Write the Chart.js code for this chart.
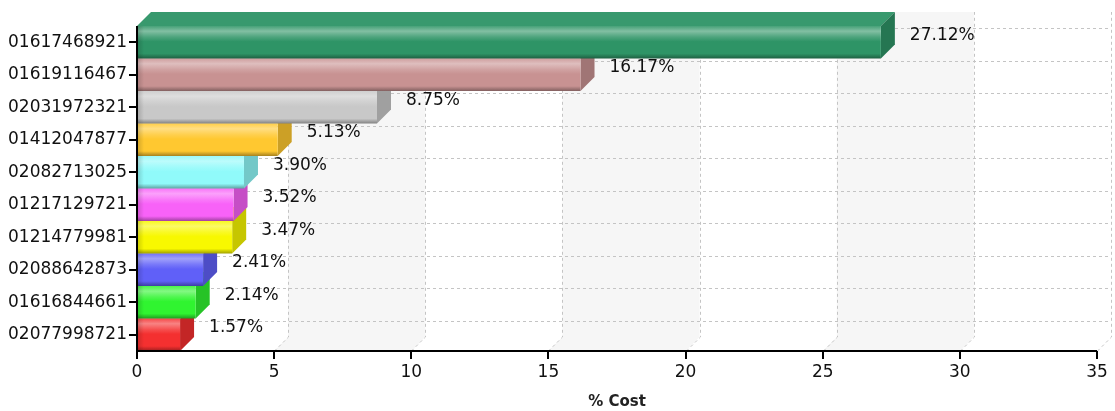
<!DOCTYPE html>
<html>
<head>
<meta charset="utf-8">
<script src="https://cdn.jsdelivr.net/npm/chart.js@4/dist/chart.umd.min.js"></script>
<style>
    html, body { margin:0; padding:0; background:#ffffff; }
    #wrap { width:1115px; height:411px; }
</style>
</head>
<body>
<div id="wrap"><canvas id="chartjs"></canvas></div>
<script>
// data
var categories = ["01617468921","01619116467","02031972321","01412047877","02082713025",
                  "01217129721","01214779981","02088642873","01616844661","02077998721"];
var values = [27.12, 16.17, 8.75, 5.13, 3.90, 3.52, 3.47, 2.41, 2.14, 1.57];
var barColors = ["#2e9466","#c89292","#c8c8c8","#ffc830","#90fafa",
                 "#f862f8","#f8f800","#6060f8","#30f430","#f43030"];
var xMin = 0, xMax = 35, xStep = 5;
var xTitle = "% Cost";

var DEPTH = 14;
var FONT = "'DejaVu Sans', Verdana, sans-serif";

function hexRgb(h){
    h = h.replace("#","");
    return [parseInt(h.substr(0,2),16), parseInt(h.substr(2,2),16), parseInt(h.substr(4,2),16)];
}
function mix(h, to, t){
    var c = hexRgb(h), o = to == "white" ? [255,255,255] : [0,0,0];
    var r = c.map(function(v,i){ return Math.round(v + (o[i]-v)*t); });
    return "rgb(" + r.join(",") + ")";
}

var wall3d = {
    id: "wall3d",
    beforeDatasetsDraw: function(chart){
        var ctx = chart.ctx, a = chart.chartArea, xs = chart.scales.x, ys = chart.scales.y;
        ctx.save();
        // shaded bands on the back wall
        ctx.fillStyle = "#f6f6f6";
        for (var v = xMin + xStep; v < xMax; v += xStep*2){
            var x1 = xs.getPixelForValue(v), x2 = xs.getPixelForValue(v + xStep);
            ctx.beginPath();
            ctx.moveTo(x1, a.bottom);
            ctx.lineTo(x1 + DEPTH, a.bottom - DEPTH);
            ctx.lineTo(x1 + DEPTH, a.top - DEPTH);
            ctx.lineTo(x2 + DEPTH, a.top - DEPTH);
            ctx.lineTo(x2 + DEPTH, a.bottom - DEPTH);
            ctx.lineTo(x2, a.bottom);
            ctx.closePath();
            ctx.fill();
        }
        ctx.strokeStyle = "#c4c4c4";
        ctx.lineWidth = 1;
        ctx.setLineDash([3,3]);
        // vertical grid
        for (var t = xMin + xStep; t <= xMax; t += xStep){
            var px = Math.round(xs.getPixelForValue(t)) + 0.5;
            ctx.beginPath();
            ctx.moveTo(px, a.bottom);
            ctx.lineTo(px + DEPTH, a.bottom - DEPTH);
            ctx.lineTo(px + DEPTH, a.top - DEPTH);
            ctx.stroke();
        }
        // horizontal grid at category centres
        for (var i = 0; i < categories.length; i++){
            var py = Math.round(ys.getPixelForValue(i) - DEPTH) + 0.5;
            ctx.beginPath();
            ctx.moveTo(a.left + DEPTH, py);
            ctx.lineTo(a.right + DEPTH, py);
            ctx.stroke();
        }
        ctx.restore();
    },
    afterDatasetsDraw: function(chart){
        var ctx = chart.ctx;
        var meta = chart.getDatasetMeta(0);
        ctx.save();
        for (var i = meta.data.length - 1; i >= 0; i--){
            var el = meta.data[i];
            var p = el.getProps(["x","y","base","height"], true);
            var top = p.y - p.height/2, bot = p.y + p.height/2;
            var base = p.base, xe = p.x;
            var col = barColors[i];

            // top face
            ctx.fillStyle = mix(col, "white", 0.05);
            ctx.beginPath();
            ctx.moveTo(base, top);
            ctx.lineTo(base + DEPTH, top - DEPTH);
            ctx.lineTo(xe + DEPTH, top - DEPTH);
            ctx.lineTo(xe, top);
            ctx.closePath();
            ctx.fill();

            // side face
            ctx.fillStyle = mix(col, "black", 0.2);
            ctx.beginPath();
            ctx.moveTo(xe, top);
            ctx.lineTo(xe + DEPTH, top - DEPTH);
            ctx.lineTo(xe + DEPTH, bot - DEPTH);
            ctx.lineTo(xe, bot);
            ctx.closePath();
            ctx.fill();

            // front face
            var g = ctx.createLinearGradient(0, top, 0, bot);
            g.addColorStop(0, mix(col, "white", 0.12));
            g.addColorStop(0.16, mix(col, "white", 0.4));
            g.addColorStop(0.34, mix(col, "white", 0.15));
            g.addColorStop(0.48, col);
            g.addColorStop(0.85, col);
            g.addColorStop(1, mix(col, "black", 0.35));
            ctx.fillStyle = g;
            ctx.fillRect(base, top, xe - base, bot - top);
            var gl = ctx.createLinearGradient(base, 0, base + 7, 0);
            gl.addColorStop(0, "rgba(0,0,0,0.18)");
            gl.addColorStop(1, "rgba(0,0,0,0)");
            ctx.fillStyle = gl;
            ctx.fillRect(base, top, 7, bot - top);

            // value label
            ctx.fillStyle = "#111";
            ctx.font = "17px " + FONT;
            ctx.textAlign = "left";
            ctx.textBaseline = "middle";
            ctx.fillText(values[i].toFixed(2) + "%", xe + DEPTH + 15, p.y - DEPTH/2);
        }
        ctx.restore();
    },
    afterDraw: function(chart){
        // axis lines and tick marks, drawn last so the bars don't hide them
        var ctx = chart.ctx, a = chart.chartArea, xs = chart.scales.x, ys = chart.scales.y;
        ctx.save();
        ctx.strokeStyle = "#000";
        ctx.lineWidth = 2;
        ctx.beginPath();
        ctx.moveTo(a.left, a.top);
        ctx.lineTo(a.left, a.bottom);
        ctx.lineTo(a.right, a.bottom);
        for (var i = 0; i < categories.length; i++){
            var py = Math.round(ys.getPixelForValue(i));
            ctx.moveTo(a.left - 8, py);
            ctx.lineTo(a.left, py);
        }
        for (var t = xMin; t <= xMax; t += xStep){
            var px = Math.round(xs.getPixelForValue(t));
            ctx.moveTo(px, a.bottom);
            ctx.lineTo(px, a.bottom + 8);
        }
        ctx.stroke();
        ctx.restore();
    }
};

var graph = new Chart(document.getElementById("chartjs"), {
    type: "bar",
    data: {
        labels: categories,
        datasets: [{
            data: values,
            backgroundColor: "rgba(0,0,0,0)",
            borderWidth: 0,
            barPercentage: 1,
            categoryPercentage: 1
        }]
    },
    options: {
        indexAxis: "y",
        responsive: true,
        maintainAspectRatio: false,
        animation: false,
        layout: { padding: { top: 26, right: 18, left: 0, bottom: 0 } },
        plugins: { legend: { display: false }, tooltip: { enabled: false } },
        scales: {
            x: {
                min: xMin, max: xMax,
                ticks: { stepSize: xStep, color: "#111", padding: 11, font: { family: FONT, size: 17 } },
                grid: { display: false, drawTicks: false },
                border: { display: false },
                title: { display: true, text: xTitle, color: "#222", padding: 0,
                         font: { family: FONT, size: 15, weight: "bold" } },
                afterFit: function(s){ s.height = 60; s.paddingRight = 0; s.paddingLeft = 0; }
            },
            y: {
                ticks: { color: "#111", padding: 10, font: { family: FONT, size: 17 } },
                grid: { display: false, drawTicks: false },
                border: { display: false },
                afterFit: function(s){ s.width = 137; }
            }
        }
    },
    plugins: [wall3d]
});
</script>
</body>
</html>
